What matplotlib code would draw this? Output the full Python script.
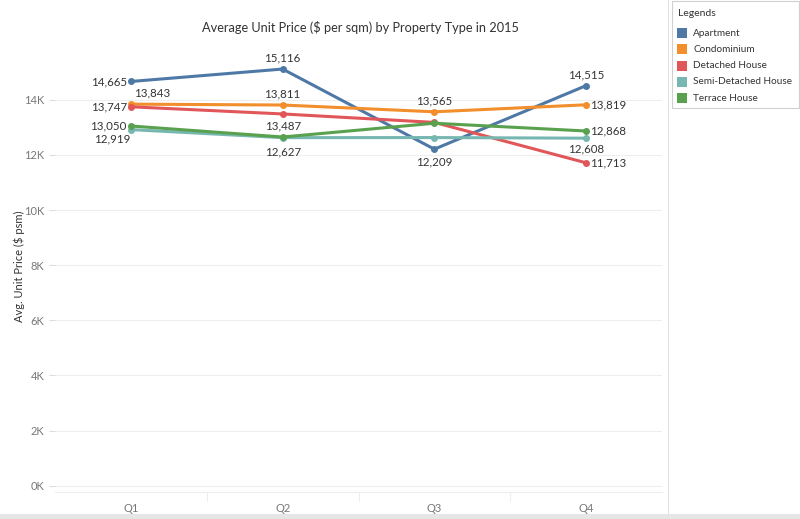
import matplotlib
matplotlib.use("Agg")
import matplotlib.pyplot as plt
from matplotlib.patches import Rectangle
from matplotlib.ticker import FuncFormatter

plt.rcParams["font.family"] = ["Lato", "DejaVu Sans"]

QUARTERS = ["Q1", "Q2", "Q3", "Q4"]
TYPES = ["Apartment", "Condominium", "Detached House", "Semi-Detached House", "Terrace House"]
apartment = [14665, 15116, 12209, 14515]
condominium = [13843, 13811, 13565, 13819]
detached = [13747, 13487, 13180, 11713]
semi_detached = [12919, 12627, 12630, 12608]
terrace = [13050, 12650, 13150, 12868]
SERIES = [apartment, condominium, detached, semi_detached, terrace]
COLORS = ["#4e79a7", "#f28e2b", "#e15759", "#76b7b2", "#59a14f"]

# which points carry a value label, and where it sits (dx, dy in points, ha, va)
LABELS = {
    0: {0: (-3, 0, "right", "center"), 1: (0, 4, "center", "bottom"),
        2: (0, -5, "center", "top"), 3: (0, 4, "center", "bottom")},
    1: {0: (2, 4, "left", "bottom"), 1: (0, 4, "center", "bottom"),
        2: (0, 4, "center", "bottom"), 3: (3, 0, "left", "center")},
    2: {0: (-3, 0, "right", "center"), 1: (0, -5, "center", "top"),
        3: (3, 0, "left", "center")},
    3: {0: (0, -3, "right", "top"), 1: (0, -6, "center", "top"),
        3: (0, -4, "center", "top")},
    4: {0: (-3, 0, "right", "center"), 3: (3, 0, "left", "center")},
}

fig = plt.figure(figsize=(8, 5.19), dpi=100)
ax = fig.add_axes([55 / 800, 27 / 519, 607 / 800, 452 / 519])

x = list(range(len(QUARTERS)))
for i, (vals, col) in enumerate(zip(SERIES, COLORS)):
    ax.plot(x, vals, color=col, lw=2.2, marker="o", ms=4, zorder=3,
            solid_capstyle="round")
    for j, (dx, dy, ha, va) in LABELS[i].items():
        ax.annotate(f"{vals[j]:,}", (x[j], vals[j]), xytext=(dx, dy),
                    textcoords="offset points", ha=ha, va=va,
                    fontsize=8.3, color="#333333", zorder=4)

ax.set_xlim(-0.5, 3.5)
ax.set_ylim(-230, 16170)
ax.set_xticks(x)
ax.set_xticklabels(QUARTERS)
ax.set_yticks(range(0, 16000, 2000))
ax.yaxis.set_major_formatter(FuncFormatter(lambda v, p: f"{int(v / 1000)}K"))
ax.tick_params(axis="both", colors="#dddddd", labelcolor="#777777", labelsize=8, length=4)
ax.tick_params(axis="x", length=0, pad=8)
ax.grid(axis="y", color="#eeeeee", lw=0.8)
ax.set_axisbelow(True)
for s in ["top", "right", "left"]:
    ax.spines[s].set_visible(False)
ax.spines["bottom"].set_color("#eeeeee")
for xv in [0.5, 1.5, 2.5]:
    ax.axvline(xv, ymin=-0.02, ymax=0, color="#eeeeee", lw=0.8, clip_on=False)
ax.set_ylabel("Avg. Unit Price ($ psm)", fontsize=8, color="#333333")
ax.yaxis.set_label_coords(-30 / 607, 0.5)

fig.text(360 / 800, 1 - 27 / 519, "Average Unit Price ($ per sqm) by Property Type in 2015",
         ha="center", va="center", fontsize=9.2, color="#333333")

# right-hand divider, bottom strip and legend panel
fig.add_artist(Rectangle((668 / 800, 0), 1 / 800, 1, transform=fig.transFigure,
                         color="#e0e0e0", lw=0))
fig.add_artist(Rectangle((0, 0), 1, 5 / 519, transform=fig.transFigure,
                         color="#e6e6e6", lw=0))
fig.add_artist(Rectangle((672 / 800, 1 - 108 / 519), 127 / 800, 107 / 519,
                         transform=fig.transFigure, facecolor="white",
                         edgecolor="#d0d0d0", lw=0.8))
fig.text(678 / 800, 1 - 13 / 519, "Legends", ha="left", va="center",
         fontsize=7.5, color="#333333")
for k, (name, col) in enumerate(zip(TYPES, COLORS)):
    yc = 33 + k * 16.3
    fig.add_artist(Rectangle((677 / 800, 1 - (yc + 5) / 519), 10 / 800, 10 / 519,
                             transform=fig.transFigure, color=col, lw=0))
    fig.text(693 / 800, 1 - yc / 519, name, ha="left", va="center",
             fontsize=7.2, color="#333333")

fig.savefig("out.png", dpi=100)
